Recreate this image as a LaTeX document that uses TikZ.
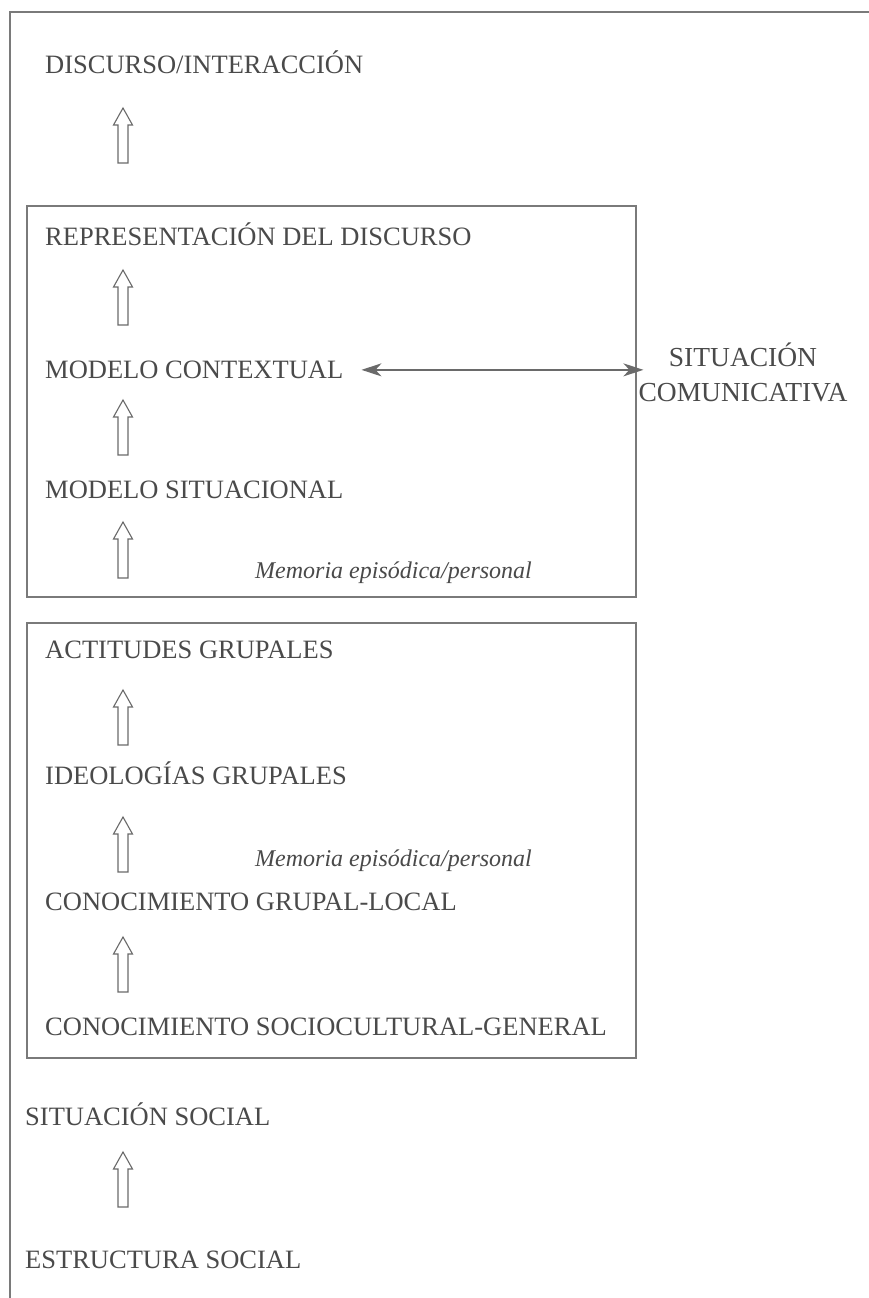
\documentclass[tikz,border=0pt]{standalone}
\usepackage{fontspec}
\setmainfont{Liberation Serif}
\usetikzlibrary{arrows.meta,calc}
\definecolor{ink}{HTML}{4A4A4A}
\definecolor{rule}{HTML}{7A7A7A}
\definecolor{arrowgray}{HTML}{6A6A6A}

% hollow upward block arrow from a foot point #1 to a tip point #2
\newcommand\hollowup[2]{%
  \draw[blockarrow] ($(#1)+(-5,0)$) -- ($(#2)+(-5,17)$) -- ($(#2)+(-9.5,17)$)
    -- (#2) -- ($(#2)+(9.5,17)$) -- ($(#2)+(5,17)$) -- ($(#1)+(5,0)$) -- cycle;}

\begin{document}
\begin{tikzpicture}[x=1pt,y=-1pt,
  term/.style={font=\fontsize{26.5pt}{31pt}\selectfont, text=ink, inner sep=0pt, anchor=base west},
  note/.style={font=\fontsize{24pt}{28pt}\selectfont\itshape, text=ink, inner sep=0pt, anchor=base west},
  frame/.style={draw=rule, line width=1.3pt},
  blockarrow/.style={draw=arrowgray, line width=1.1pt, line join=miter},
  link/.style={draw=arrowgray, line width=1.5pt,
    {Stealth[length=20pt,width=13pt,inset=6pt]}-{Stealth[length=20pt,width=13pt,inset=6pt]}}]
\useasboundingbox (0,0) rectangle (869,1298);
\fill[white] (0,0) rectangle (869,1298);

% outer frame (left and top rules) and the two memory boxes
\draw[frame] (10,1298) -- (10,12) -- (869,12);
\draw[frame] (27,206) rectangle (636,597);
\draw[frame] (27,623) rectangle (636,1058);

% levels
\node[term] (disc) at (45,73.5) {DISCURSO/INTERACCIÓN};
\node[term] (repr) at (45,245.5) {REPRESENTACIÓN DEL DISCURSO};
\node[term] (ctx)  at (45,378.5) {MODELO CONTEXTUAL};
\node[term] (sitm) at (45,498.5) {MODELO SITUACIONAL};
\node[note] (mem1) at (255,578) {Memoria episódica/personal};
\node[term] (act)  at (45,658.5) {ACTITUDES GRUPALES};
\node[term] (ideo) at (45,784.5) {IDEOLOGÍAS GRUPALES};
\node[note] (mem2) at (255,866) {Memoria episódica/personal};
\node[term] (cgl)  at (45,910.5) {CONOCIMIENTO GRUPAL-LOCAL};
\node[term] (csg)  at (45,1035.5) {CONOCIMIENTO SOCIOCULTURAL-GENERAL};
\node[term] (ssoc) at (25,1125.5) {SITUACIÓN SOCIAL};
\node[term] (estr) at (25,1268.5) {ESTRUCTURA SOCIAL};
\node[term, anchor=center, align=center, font=\fontsize{27.5pt}{35pt}\selectfont]
  (sit) at (743,372) {SITUACIÓN\\COMUNICATIVA};

% context model <-> communicative situation
\draw[link, shorten >=-5pt] ($(ctx.east)+(18,0)$) -- (sit.west |- ctx.east);

% upward block arrows
\coordinate (a1s) at (123,163);  \coordinate (a1e) at (123,108);
\coordinate (a2s) at (123,325);  \coordinate (a2e) at (123,270);
\coordinate (a3s) at (123,455);  \coordinate (a3e) at (123,400);
\coordinate (a4s) at (123,578);  \coordinate (a4e) at (123,522);
\coordinate (a5s) at (123,745);  \coordinate (a5e) at (123,690);
\coordinate (a6s) at (123,872);  \coordinate (a6e) at (123,817);
\coordinate (a7s) at (123,992);  \coordinate (a7e) at (123,937);
\coordinate (a8s) at (123,1207); \coordinate (a8e) at (123,1152);
\foreach \i in {1,...,8} {\hollowup{a\i s}{a\i e}}
\end{tikzpicture}
\end{document}
